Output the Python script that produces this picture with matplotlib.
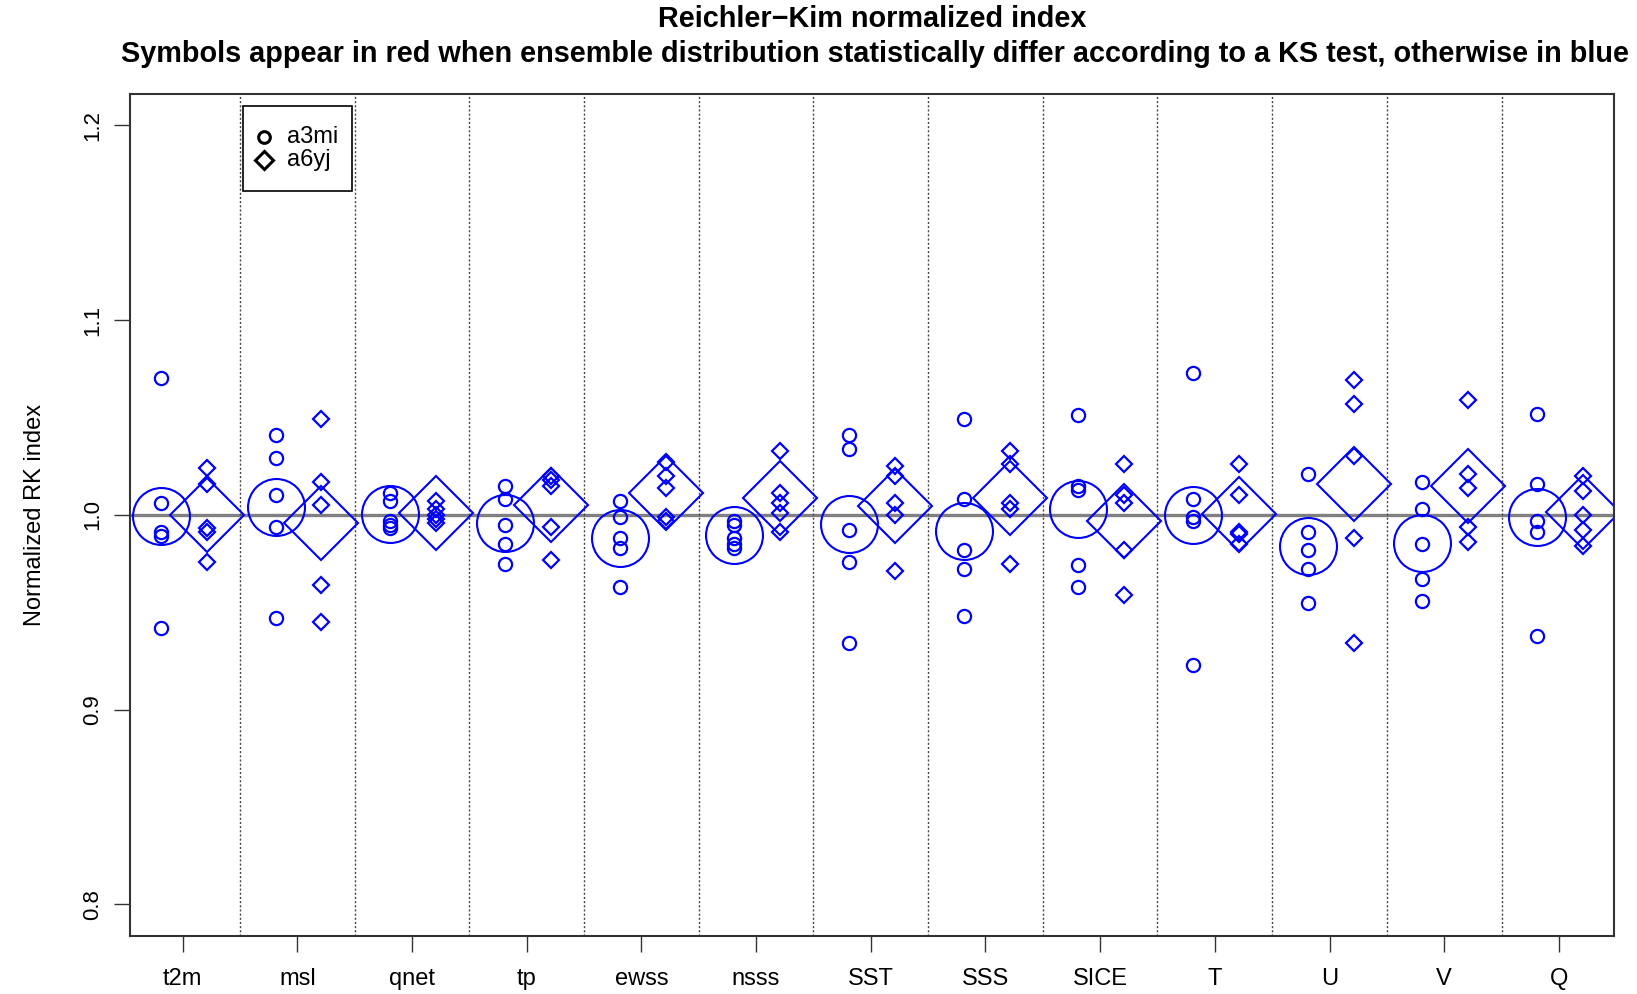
"""Reichler-Kim normalized index: ensemble comparison a3mi vs a6yj."""

import matplotlib

matplotlib.use("Agg")
import matplotlib.pyplot as plt
import numpy as np
from matplotlib.patches import Rectangle

variables = ["t2m", "msl", "qnet", "tp", "ewss", "nsss", "SST", "SSS", "SICE", "T", "U", "V", "Q"]

# normalized RK index of each ensemble member, per variable
a3mi = [
    [1.070, 1.006, 0.991, 0.989, 0.942],
    [1.041, 1.029, 1.010, 0.994, 0.947],
    [1.011, 1.007, 0.997, 0.995, 0.993],
    [1.015, 1.008, 0.995, 0.985, 0.975],
    [1.007, 0.999, 0.988, 0.983, 0.963],
    [0.997, 0.995, 0.988, 0.985, 0.983],
    [1.041, 1.034, 0.992, 0.976, 0.934],
    [1.049, 1.008, 0.982, 0.972, 0.948],
    [1.051, 1.015, 1.013, 0.974, 0.963],
    [1.073, 1.008, 0.999, 0.997, 0.923],
    [1.021, 0.991, 0.982, 0.972, 0.955],
    [1.017, 1.003, 0.985, 0.967, 0.956],
    [1.052, 1.016, 0.997, 0.991, 0.938],
]
a6yj = [
    [1.024, 1.016, 0.993, 0.991, 0.976],
    [1.049, 1.017, 1.005, 0.964, 0.945],
    [1.007, 1.003, 1.000, 0.998, 0.996],
    [1.020, 1.018, 1.015, 0.994, 0.977],
    [1.027, 1.020, 1.014, 0.999, 0.997],
    [1.033, 1.011, 1.006, 1.001, 0.991],
    [1.025, 1.020, 1.006, 1.000, 0.971],
    [1.033, 1.026, 1.006, 1.003, 0.975],
    [1.026, 1.010, 1.006, 0.982, 0.959],
    [1.026, 1.010, 0.991, 0.990, 0.985],
    [1.069, 1.057, 1.030, 0.988, 0.934],
    [1.059, 1.021, 1.014, 0.994, 0.986],
    [1.020, 1.012, 1.000, 0.992, 0.984],
]
# KS test result per variable (True -> distributions differ -> red)
ks_differs = [False] * len(variables)
experiments = ["a3mi", "a6yj"]

plt.rcParams["font.family"] = ["Liberation Sans", "DejaVu Sans"]

fig = plt.figure(figsize=(16.37, 9.94), dpi=100)
ax = fig.add_axes([0.0794, 0.0587, 0.9065, 0.8467])

xpos = np.arange(1, len(variables) + 1)
for i, x in enumerate(xpos):
    col = "red" if ks_differs[i] else "blue"
    m1 = np.asarray(a3mi[i])
    m2 = np.asarray(a6yj[i])
    ax.plot(np.full(m1.size, x - 0.19), m1, "o", ms=9.5, mfc="none", mec=col, mew=1.6, ls="none")
    ax.plot(np.full(m2.size, x + 0.21), m2, "D", ms=8.3, mfc="none", mec=col, mew=1.6, ls="none")
    ax.plot(x - 0.19, m1.mean(), "o", ms=41, mfc="none", mec=col, mew=1.5)
    ax.plot(x + 0.21, m2.mean(), "D", ms=37.5, mfc="none", mec=col, mew=1.5)

ax.axhline(1.0, color="#808080", lw=2.4, zorder=0)
for x in xpos[:-1]:
    ax.axvline(x + 0.5, color="#444444", lw=1.0, ls=(0, (1.5, 1.5)), zorder=0)

ax.set_xlim(0.54, 13.48)
ax.set_ylim(0.784, 1.216)
ax.set_xticks(xpos)
ax.set_xticklabels(variables)
ax.set_yticks([0.8, 0.9, 1.0, 1.1, 1.2])
ax.set_yticklabels(["0.8", "0.9", "1.0", "1.1", "1.2"], rotation=90, va="center")
ax.tick_params(axis="both", length=11.5, width=1.0, color="#333333")
ax.tick_params(axis="x", labelsize=17, pad=11.5)
ax.tick_params(axis="y", labelsize=16, pad=8)
ax.set_ylabel("Normalized RK index", fontsize=17)
ax.yaxis.set_label_coords(-0.0565, 0.5)
for s in ax.spines.values():
    s.set_color("#333333")
    s.set_linewidth(1.5)

# legend box, drawn like R's legend()
ax.add_patch(Rectangle((0.0761, 0.8849), 0.0735, 0.1010, transform=ax.transAxes,
                       fill=True, fc="white", ec="black", lw=1.2, zorder=5))
for row_y, mk, ms, name in zip([0.9490, 0.9217], ["o", "D"], [8.4, 9.0], experiments):
    ax.plot(0.0903, row_y, mk, ms=ms, mfc="none", mec="black", mew=2.2,
            transform=ax.transAxes, zorder=6, clip_on=False)
    ax.text(0.1058, row_y, name, transform=ax.transAxes, fontsize=17, va="center", zorder=6)

fig.text(0.5327, 0.981, "Reichler\u2212Kim normalized index", ha="center", va="center",
         fontsize=20.8, fontweight="bold")
fig.text(0.5345, 0.9454, "Symbols appear in red when ensemble distribution statistically differ "
         "according to a KS test, otherwise in blue", ha="center", va="center",
         fontsize=20.8, fontweight="bold")

fig.savefig("out.png", dpi=100)
